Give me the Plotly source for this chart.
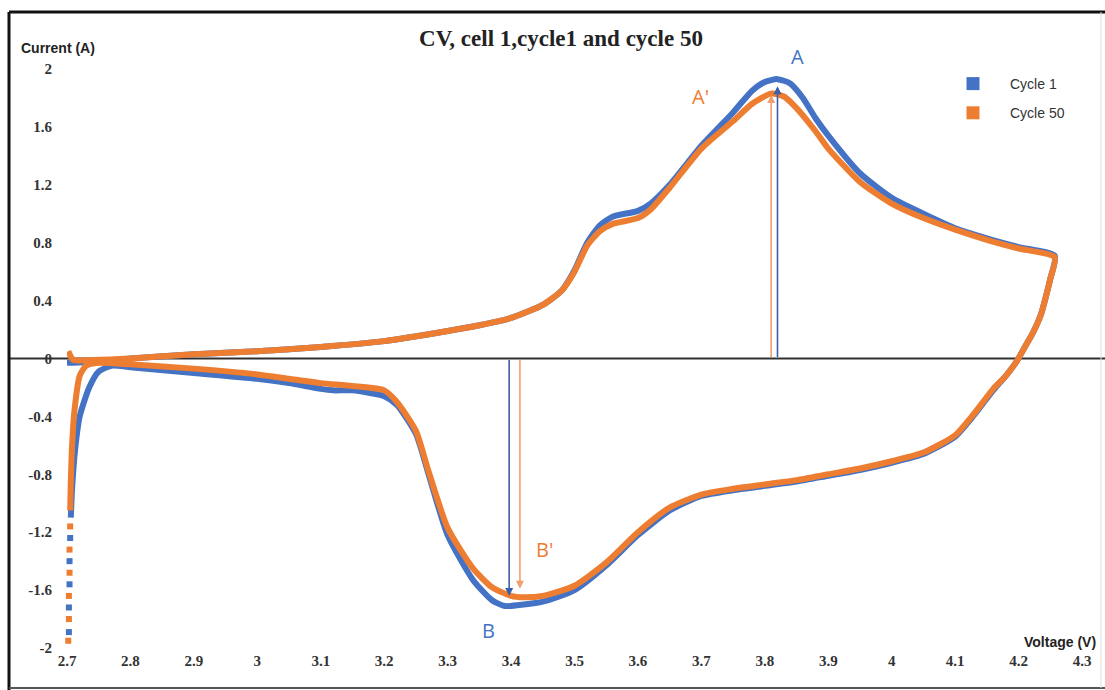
import plotly.graph_objects as go

# ---------------- data ----------------
# Cycle 1 (blue): forward (anodic) scan then reverse (cathodic) scan
v_cycle1 = [2.700, 2.750, 2.800, 2.900, 3.000, 3.100, 3.200, 3.300, 3.350, 3.400, 3.450, 3.480,
            3.500, 3.520, 3.540, 3.560, 3.600, 3.620, 3.650, 3.700, 3.750, 3.780, 3.800, 3.820,
            3.840, 3.860, 3.880, 3.900, 3.950, 4.000, 4.050, 4.100, 4.150, 4.200, 4.257,
            4.250, 4.245, 4.235, 4.223, 4.210, 4.197, 4.180, 4.160, 4.130, 4.100, 4.050, 4.000,
            3.950, 3.900, 3.850, 3.800, 3.750, 3.700, 3.650, 3.600, 3.550, 3.500, 3.450, 3.420,
            3.390, 3.370, 3.340, 3.300, 3.270, 3.250, 3.220, 3.200, 3.150, 3.120, 3.100, 3.050,
            3.000, 2.900, 2.800, 2.770, 2.750, 2.735, 2.720, 2.713, 2.708, 2.706]
i_cycle1 = [-0.03, -0.02, 0.00, 0.03, 0.05, 0.08, 0.12, 0.19, 0.23, 0.28, 0.37, 0.47,
            0.61, 0.80, 0.92, 0.98, 1.02, 1.07, 1.20, 1.47, 1.70, 1.85, 1.91, 1.93,
            1.90, 1.80, 1.66, 1.54, 1.28, 1.11, 1.00, 0.90, 0.83, 0.77, 0.71,
            0.55, 0.46, 0.30, 0.18, 0.08, -0.02, -0.12, -0.22, -0.39, -0.54, -0.66, -0.72,
            -0.77, -0.81, -0.85, -0.88, -0.91, -0.95, -1.05, -1.22, -1.43, -1.60, -1.68, -1.70,
            -1.71, -1.67, -1.53, -1.22, -0.80, -0.52, -0.32, -0.26, -0.22, -0.22, -0.21, -0.17,
            -0.14, -0.10, -0.06, -0.05, -0.09, -0.20, -0.40, -0.62, -0.90, -1.10]
v_cycle1_tail = [2.705, 2.704, 2.704, 2.703, 2.703]
i_cycle1_tail = [-1.24, -1.40, -1.56, -1.72, -1.89]

# Cycle 50 (orange)
v_cycle50 = [2.702, 2.710, 2.740, 2.800, 2.900, 3.000, 3.100, 3.200, 3.300, 3.350, 3.400, 3.450, 3.480,
             3.500, 3.520, 3.540, 3.560, 3.600, 3.620, 3.650, 3.700, 3.750, 3.780, 3.810, 3.830,
             3.850, 3.880, 3.900, 3.950, 4.000, 4.050, 4.100, 4.150, 4.200, 4.257,
             4.250, 4.245, 4.235, 4.223, 4.210, 4.197, 4.180, 4.160, 4.130, 4.100, 4.050, 4.000,
             3.950, 3.900, 3.850, 3.800, 3.750, 3.700, 3.650, 3.600, 3.550, 3.500, 3.450, 3.420,
             3.400, 3.370, 3.340, 3.300, 3.270, 3.250, 3.220, 3.200, 3.150, 3.100, 3.050,
             3.000, 2.900, 2.800, 2.750, 2.730, 2.720, 2.712, 2.708, 2.706, 2.705]
i_cycle50 = [0.05, -0.01, -0.01, 0.00, 0.03, 0.05, 0.08, 0.12, 0.19, 0.23, 0.28, 0.37, 0.47,
             0.60, 0.78, 0.88, 0.93, 0.97, 1.03, 1.18, 1.45, 1.64, 1.76, 1.83, 1.81,
             1.73, 1.57, 1.45, 1.22, 1.07, 0.97, 0.89, 0.82, 0.76, 0.70,
             0.55, 0.46, 0.30, 0.18, 0.08, -0.02, -0.12, -0.21, -0.38, -0.53, -0.65, -0.71,
             -0.76, -0.80, -0.84, -0.87, -0.90, -0.94, -1.03, -1.20, -1.41, -1.57, -1.64, -1.65,
             -1.64, -1.58, -1.45, -1.17, -0.78, -0.50, -0.30, -0.22, -0.19, -0.17, -0.14,
             -0.11, -0.07, -0.04, -0.03, -0.05, -0.12, -0.35, -0.60, -0.85, -1.05]
v_cycle50_tail = [2.705, 2.704, 2.704, 2.703, 2.703, 2.702]
i_cycle50_tail = [-1.16, -1.32, -1.48, -1.64, -1.80, -1.95]

# peak markers (arrows) : x, y tip
peak_A = (3.820, 1.88)
peak_A2 = (3.810, 1.82)
peak_B = (3.397, -1.64)
peak_B2 = (3.414, -1.59)

x_ticks = [2.7, 2.8, 2.9, 3.0, 3.1, 3.2, 3.3, 3.4, 3.5, 3.6, 3.7, 3.8, 3.9, 4.0, 4.1, 4.2, 4.3]
x_tick_text = ["2.7", "2.8", "2.9", "3", "3.1", "3.2", "3.3", "3.4", "3.5", "3.6", "3.7", "3.8",
               "3.9", "4", "4.1", "4.2", "4.3"]
y_ticks = [-2, -1.6, -1.2, -0.8, -0.4, 0, 0.4, 0.8, 1.2, 1.6, 2]
y_tick_text = ["-2", "-1.6", "-1.2", "-0.8", "-0.4", "0", "0.4", "0.8", "1.2", "1.6", "2"]

BLUE = "#4472C4"
ORANGE = "#ED7D31"
W, H = 1105, 690
L, R, T, B = 67, 23, 69, 42
PW, PH = W - L - R, H - T - B


def px_x(p):
    return (p - L) / PW


def px_y(p):
    return (H - B - p) / PH


fig = go.Figure()

# main curves
fig.add_trace(go.Scatter(x=v_cycle1, y=i_cycle1, mode="lines",
                         line=dict(color=BLUE, width=6, shape="spline", smoothing=0.6),
                         showlegend=False, hoverinfo="skip"))
fig.add_trace(go.Scatter(x=v_cycle1_tail, y=i_cycle1_tail, mode="markers",
                         marker=dict(color=BLUE, size=6, symbol="square"),
                         showlegend=False, cliponaxis=False, hoverinfo="skip"))
fig.add_trace(go.Scatter(x=v_cycle50, y=i_cycle50, mode="lines",
                         line=dict(color=ORANGE, width=6, shape="spline", smoothing=0.6),
                         showlegend=False, hoverinfo="skip"))
fig.add_trace(go.Scatter(x=v_cycle50_tail, y=i_cycle50_tail, mode="markers",
                         marker=dict(color=ORANGE, size=6, symbol="square"),
                         showlegend=False, cliponaxis=False, hoverinfo="skip"))

# legend entries
fig.add_trace(go.Scatter(x=[None], y=[None], mode="markers", name="Cycle 1", legendgroup="c1",
                         marker=dict(color=BLUE, size=13, symbol="square")))
fig.add_trace(go.Scatter(x=[None], y=[None], mode="markers", name="Cycle 50", legendgroup="c50",
                         marker=dict(color=ORANGE, size=13, symbol="square")))

# zero line across the whole frame
fig.add_shape(type="line", xref="paper", yref="y",
              x0=px_x(10), x1=px_x(W), y0=0, y1=0,
              line=dict(color="#303030", width=2), layer="below")

# frame of the picture
fig.add_shape(type="line", xref="paper", yref="paper", x0=px_x(9), x1=px_x(W),
              y0=px_y(12), y1=px_y(12), line=dict(color="#111111", width=3))
fig.add_shape(type="line", xref="paper", yref="paper", x0=px_x(9), x1=px_x(9),
              y0=px_y(12), y1=px_y(H), line=dict(color="#111111", width=3))
fig.add_shape(type="line", xref="paper", yref="paper", x0=px_x(9), x1=px_x(W),
              y0=px_y(688), y1=px_y(688), line=dict(color="#555555", width=2))
fig.add_shape(type="line", xref="paper", yref="paper", x0=px_x(1101), x1=px_x(1101),
              y0=px_y(12), y1=px_y(688), line=dict(color="#dddddd", width=1))

# arrows
for (px, py), col in [(peak_A, "#3B5FA8"), (peak_B, "#3B5FA8"),
                      (peak_A2, "#F0A070"), (peak_B2, "#F0A070")]:
    fig.add_annotation(x=px, y=py, ax=px, ay=0, xref="x", yref="y", axref="x", ayref="y",
                       text="", showarrow=True, arrowhead=2, arrowsize=1, arrowwidth=1.6,
                       arrowcolor=col)

label_font = "Open Sans, Liberation Sans, sans-serif"
fig.add_annotation(x=px_x(797), y=px_y(56), text="A", showarrow=False, xref="paper", yref="paper",
                   xanchor="center", yanchor="middle",
                   font=dict(family=label_font, size=20, color=BLUE))
fig.add_annotation(x=3.698, y=1.81, text="A'", showarrow=False, xref="x", yref="y",
                   font=dict(family=label_font, size=20, color=ORANGE))
fig.add_annotation(x=3.365, y=-1.88, text="B", showarrow=False, xref="x", yref="y",
                   font=dict(family=label_font, size=20, color=BLUE))
fig.add_annotation(x=3.452, y=-1.32, text="B'", showarrow=False, xref="x", yref="y",
                   font=dict(family=label_font, size=20, color=ORANGE))

# axis titles
fig.add_annotation(x=px_x(19), y=px_y(48), xref="paper", yref="paper",
                   text="<b>Current (A)</b>", showarrow=False, xanchor="left", yanchor="middle",
                   font=dict(family="Liberation Sans, Arial", size=14, color="#222222"))
fig.add_annotation(x=px_x(1098), y=px_y(642), xref="paper", yref="paper",
                   text="<b>Voltage (V)</b>", showarrow=False, xanchor="right", yanchor="middle",
                   font=dict(family="Liberation Sans, Arial", size=14, color="#222222"))

tick_font = dict(family="Liberation Serif, Times New Roman, serif", size=15,
                 color="#333333", weight="bold")

fig.update_layout(
    width=W, height=H,
    margin=dict(l=L, r=R, t=T, b=B),
    paper_bgcolor="white", plot_bgcolor="white",
    title=dict(text="<b>CV, cell 1,cycle1 and cycle 50</b>", x=561 / W, xanchor="center",
               y=1 - 38 / H, yanchor="middle",
               font=dict(family="Liberation Serif, Times New Roman, serif", size=23,
                         color="#222222")),
    xaxis=dict(range=[2.7, 4.3], tickvals=x_ticks, ticktext=x_tick_text,
               showgrid=False, zeroline=False, showline=False, ticks="",
               ticklabelstandoff=2, tickfont=tick_font),
    yaxis=dict(range=[-2, 2], tickvals=y_ticks, ticktext=y_tick_text,
               showgrid=False, zeroline=False, showline=False, ticks="",
               ticklabelstandoff=14, tickfont=tick_font),
    legend=dict(x=px_x(936), y=px_y(68), xanchor="left",
                yanchor="top", bgcolor="rgba(0,0,0,0)", tracegroupgap=8,
                font=dict(family="Liberation Sans, Arial", size=14, color="#333333"),
                itemwidth=64),
)

fig.write_html("out.html")
